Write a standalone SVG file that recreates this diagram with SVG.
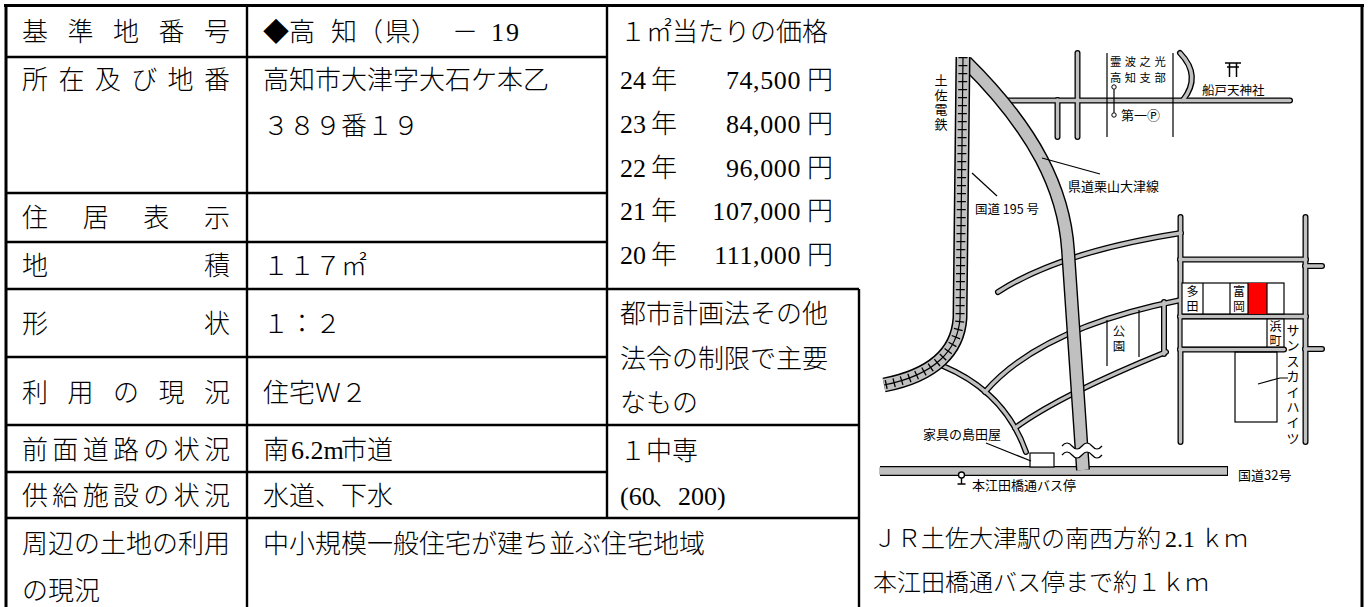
<svg xmlns="http://www.w3.org/2000/svg" xmlns:xlink="http://www.w3.org/1999/xlink" width="1368" height="607" viewBox="0 0 1368 607">
<style>
.t{font-family:"Noto Sans CJK JP","Noto Sans CJK SC",sans-serif;font-size:26px;font-weight:300;fill:#000}
.n{font-family:"Liberation Serif",serif;font-weight:400}
.c{font-family:"Noto Sans CJK JP","Noto Sans CJK SC",sans-serif;font-size:24px;font-weight:300;fill:#000}
.m{font-family:"Noto Sans CJK JP","Noto Sans CJK SC",sans-serif;font-size:13px;fill:#000}
.ln{stroke:#000;stroke-width:1.2;fill:none}
</style>
<defs>
<g id="thin">
<path d="M943,366 Q1005,392 1026,452"/>
<path d="M998,292 Q1060,252 1181,233"/>
<path d="M985,392 Q1040,328 1181,300"/>
<path d="M1015,428 Q1060,395 1166,352"/>
<path d="M1164,302 V354"/>
<path d="M1180.5,217 V442"/>
<path d="M1305.5,217 V442"/>
<path d="M1180,259.5 H1306"/>
<path d="M1180,316.5 H1306"/>
<path d="M1180,349.5 H1284"/>
<path d="M1305,266 H1322"/>
<path d="M1305,349 H1322"/>
<path d="M1000,100.5 H1290"/>
<path d="M1077.5,53 V137"/>
<path d="M1057.5,100 V137"/>
<path d="M1180,53 Q1202,76 1183,100"/>
</g>
<path id="main" d="M966,62 C1035,130 1064,190 1068,250 L1083,470"/>
<path id="rail" d="M963,57 L960,318 C958,350 935,375 884,385"/>
</defs>

<g id="grid" fill="none" stroke="#000">
<path d="M4,5.5H1364 M6,4V607 M1362,4V607" stroke-width="3"/>
<path d="M247,5V607 M607,5V518 M859,289V607 M6,57H607 M6,193H607 M6,242H607 M6,289H859 M6,357H607 M6,425H859 M6,472H607 M6,518H859" stroke-width="2.4"/>
</g>

<g id="labels">
<text class="t" x="22 67.5 113 158.5 204" y="41">基準地番号</text>
<text class="t" x="22 58.4 94.8 131.2 167.6 204" y="89">所在及び地番</text>
<text class="t" x="22 82.7 143.3 204" y="227">住居表示</text>
<text class="t" x="22 204" y="275">地積</text>
<text class="t" x="22 204" y="333">形状</text>
<text class="t" x="22 67.5 113 158.5 204" y="402">利用の現況</text>
<text class="t" x="22 52.3 82.7 113 143.3 173.7 204" y="459">前面道路の状況</text>
<text class="t" x="22 52.3 82.7 113 143.3 173.7 204" y="505">供給施設の状況</text>
<text class="t" x="22" y="553">周辺の土地の利用</text>
<text class="t" x="22" y="600">の現況</text>
</g>

<g id="values">
<text class="t" y="41"><tspan x="263">◆高</tspan><tspan x="331">知</tspan><tspan x="357">（</tspan><tspan x="385">県</tspan><tspan x="411">）</tspan><tspan x="452">－</tspan><tspan class="n" x="491 506">19</tspan></text>
<text class="t" x="263" y="89">高知市大津字大石ケ本乙</text>
<text class="t" x="263" y="135">３８９番１９</text>
<text class="t" x="263" y="275">１１７㎡</text>
<text class="t" x="263" y="333">１：２</text>
<text class="t" x="263" y="402">住宅Ｗ２</text>
<text class="t" y="459"><tspan x="263">南</tspan><tspan class="n" x="291">6.2m</tspan><tspan x="341">市道</tspan></text>
<text class="t" x="263" y="505">水道、下水</text>
<text class="t" x="263" y="553">中小規模一般住宅が建ち並ぶ住宅地域</text>
</g>

<g id="prices">
<text class="t" x="620" y="41">１㎡当たりの価格</text>
<text class="t" y="89"><tspan class="n" x="620">24</tspan><tspan x="651">年</tspan></text>
<text class="t n" x="801" y="89" text-anchor="end" style="letter-spacing:0.6px">74,500</text>
<text class="t" x="807" y="89">円</text>
<text class="t" y="133"><tspan class="n" x="620">23</tspan><tspan x="651">年</tspan></text>
<text class="t n" x="801" y="133" text-anchor="end" style="letter-spacing:0.6px">84,000</text>
<text class="t" x="807" y="133">円</text>
<text class="t" y="177"><tspan class="n" x="620">22</tspan><tspan x="651">年</tspan></text>
<text class="t n" x="801" y="177" text-anchor="end" style="letter-spacing:0.6px">96,000</text>
<text class="t" x="807" y="177">円</text>
<text class="t" y="220"><tspan class="n" x="620">21</tspan><tspan x="651">年</tspan></text>
<text class="t n" x="801" y="220" text-anchor="end" style="letter-spacing:0.6px">107,000</text>
<text class="t" x="807" y="220">円</text>
<text class="t" y="264"><tspan class="n" x="620">20</tspan><tspan x="651">年</tspan></text>
<text class="t n" x="801" y="264" text-anchor="end" style="letter-spacing:0.6px">111,000</text>
<text class="t" x="807" y="264">円</text>
</g>

<g id="zoning">
<text class="t" x="620" y="323">都市計画法その他</text>
<text class="t" x="620" y="368">法令の制限で主要</text>
<text class="t" x="620" y="412">なもの</text>
<text class="t" x="620" y="460">１中専</text>
<text class="t" y="505"><tspan class="n" x="620">(60</tspan><tspan x="652">、</tspan><tspan class="n" x="678">200)</tspan></text>
</g>

<g id="caption">
<text class="c" y="547"><tspan x="873">ＪＲ土佐大津駅の南西方約</tspan><tspan class="n" x="1165">2.1</tspan><tspan x="1200">ｋｍ</tspan></text>
<text class="c" x="873" y="591">本江田橋通バス停まで約１ｋｍ</text>
</g>

<g id="map">
<g id="roads">
<use xlink:href="#thin" href="#thin" fill="none" stroke="#000" stroke-width="6" stroke-linecap="round"/>
<use xlink:href="#thin" href="#thin" fill="none" stroke="#c0c0c0" stroke-width="3.4" stroke-linecap="round"/>
<path d="M880,471 H1228" stroke="#000" stroke-width="10" fill="none"/>
<path d="M879,471 H1227" stroke="#c0c0c0" stroke-width="7.4" fill="none"/>
<use xlink:href="#main" href="#main" fill="none" stroke="#000" stroke-width="14"/>
<use xlink:href="#main" href="#main" fill="none" stroke="#c0c0c0" stroke-width="11.2"/>
<path d="M1062,446 q5,-6 10,0 t10,0 t10,0 t10,0 L1102,455 q-5,6 -10,0 t-10,0 t-10,0 t-10,0 Z" fill="#fff"/>
<path d="M1062,446 q5,-6 10,0 t10,0 t10,0 t10,0 M1062,455 q5,-6 10,0 t10,0 t10,0 t10,0" class="ln"/>
</g>
<g id="railway" fill="none">
<use xlink:href="#rail" href="#rail" stroke="#000" stroke-width="15"/>
<use xlink:href="#rail" href="#rail" stroke="#c0c0c0" stroke-width="12"/>
<use xlink:href="#rail" href="#rail" stroke="#000" stroke-width="9" stroke-dasharray="1.3 6.7"/>
<use xlink:href="#rail" href="#rail" stroke="#000" stroke-width="1.2"/>
</g>
<g id="features">
<path d="M1107,53V137 M1173,53V137" class="ln"/>
<path d="M1107,320V366 M1139,310V357" class="ln"/>
<rect x="1182" y="283" width="102" height="31" fill="#fff" stroke="#000" stroke-width="1.2"/>
<rect x="1248" y="283" width="19" height="31" fill="#ff0000"/>
<path d="M1203,283V314 M1230,283V314 M1248,283V314 M1267,283V314" class="ln"/>
<rect x="1182" y="319" width="102" height="28" fill="#fff" stroke="#000" stroke-width="1.2"/>
<path d="M1267,319V347" class="ln"/>
<rect x="1235" y="352" width="42" height="70" fill="none" stroke="#000" stroke-width="1.2"/>
<rect x="1030" y="453" width="24" height="14" fill="#fff" stroke="#000" stroke-width="1.2"/>
<path d="M1114,89.2V112.8" class="ln"/>
<circle cx="1114" cy="87" r="2.2" fill="#fff" stroke="#000" stroke-width="1"/>
<circle cx="1114" cy="115" r="2.2" fill="#fff" stroke="#000" stroke-width="1"/>
<path d="M1225,63H1241 M1227,67H1239 M1229.5,63V77 M1236.5,63V77" stroke="#000" stroke-width="1.5" fill="none"/>
<circle cx="961.5" cy="475" r="3" fill="#fff" stroke="#000" stroke-width="1.4"/>
<path d="M961.5,478V484 M957.5,484H965.5" stroke="#000" stroke-width="1.4" fill="none"/>
</g>
<g id="leaders" class="ln">
<path d="M972,173 L997,196"/>
<path d="M1042,158 L1100,174"/>
<path d="M986,443 L1031,461"/>
<path d="M1258,384 L1280,378 L1288,378"/>
</g>
<g id="map-labels">
<text class="m" x="941 941 941 941" y="85 99.5 114 129" text-anchor="middle">土佐電鉄</text>
<text class="m" x="975" y="214" style="font-size:12.5px">国道 195 号</text>
<text class="m" x="1068" y="191">県道栗山大津線</text>
<text class="m" x="1110" y="65.5" style="font-size:11.3px;letter-spacing:3.5px">霊波之光</text>
<text class="m" x="1110" y="82" style="font-size:11.3px;letter-spacing:3.5px">高知支部</text>
<text class="m" x="1121" y="120">第一Ⓟ</text>
<text class="m" x="1202" y="95" style="font-size:12.5px">船戸天神社</text>
<text class="m" x="1119 1119" y="336 351" text-anchor="middle" style="font-size:12.5px">公園</text>
<text class="m" x="1192.5 1192.5" y="295.5 310.5" text-anchor="middle" style="font-size:12px">多田</text>
<text class="m" x="1239 1239" y="295.5 310.5" text-anchor="middle" style="font-size:12px">富岡</text>
<text class="m" x="1275.5 1275.5" y="331 344.5" text-anchor="middle" style="font-size:12px">浜町</text>
<text class="m" x="1293 1293 1293 1293 1293 1293 1293 1293" y="335 350.4 365.8 381.2 396.6 412 427.4 442.8" text-anchor="middle">サンスカイハイツ</text>
<text class="m" x="923" y="439">家具の島田屋</text>
<text class="m" x="972" y="490">本江田橋通バス停</text>
<text class="m" x="1238" y="480">国道32号</text>
</g>
</g>
</svg>
